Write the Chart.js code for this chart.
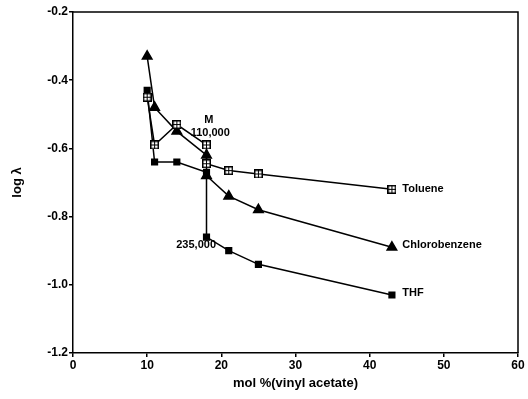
<!DOCTYPE html>
<html>
<head>
<meta charset="utf-8">
<script src="https://cdn.jsdelivr.net/npm/chart.js@4"></script>
<style>
  body { margin: 0; background: #fff; }
  #wrap { width: 528px; height: 399px; }
</style>
</head>
<body>
<div id="wrap"><canvas id="chartCanvas" width="528" height="399"></canvas></div>
<script>
// mol % vinyl acetate (x) for every series; 18 appears twice (two molecular weights)
const molVA = [10, 11, 14, 18, 18, 21, 25, 43];
const toluene = [-0.45, -0.59, -0.53, -0.59, -0.645, -0.665, -0.675, -0.72];
const chlorobenzene = [-0.33, -0.48, -0.55, -0.62, -0.68, -0.74, -0.78, -0.89];
const thf = [-0.43, -0.64, -0.64, -0.67, -0.86, -0.90, -0.94, -1.03];

const xTicks = [0, 10, 20, 30, 40, 50, 60];
const yTicks = [-0.2, -0.4, -0.6, -0.8, -1.0, -1.2];

// text labels placed at data coordinates
const labels = [
    { text: "Toluene", x: 44.4, y: -0.719, align: "left" },
    { text: "Chlorobenzene", x: 44.4, y: -0.883, align: "left" },
    { text: "THF", x: 44.4, y: -1.024, align: "left" },
    { text: "M", x: 18.3, y: -0.517, align: "center" },
    { text: "110,000", x: 18.5, y: -0.555, align: "center" },
    { text: "235,000", x: 16.6, y: -0.883, align: "center" }
];

const toXY = (ys) => ys.map((v, i) => ({ x: molVA[i], y: v }));

// open square with a cross for toluene
function crossSquare() {
    const c = document.createElement("canvas");
    c.width = 9; c.height = 9;
    const g = c.getContext("2d");
    g.fillStyle = "#fff";
    g.fillRect(0, 0, 9, 9);
    g.strokeStyle = "#000";
    g.lineWidth = 1.5;
    g.strokeRect(0.75, 0.75, 7.5, 7.5);
    g.lineWidth = 1;
    g.beginPath();
    g.moveTo(4.5, 1); g.lineTo(4.5, 8);
    g.moveTo(1, 4.5); g.lineTo(8, 4.5);
    g.stroke();
    return c;
}

const frameAndLabels = {
    id: "frameAndLabels",
    afterDraw(chart) {
        const { ctx, chartArea: a, scales } = chart;
        ctx.save();
        ctx.strokeStyle = "#000";
        ctx.lineWidth = 1.5;
        ctx.beginPath();
        ctx.moveTo(a.left, a.top);
        ctx.lineTo(a.right, a.top);
        ctx.lineTo(a.right, a.bottom);
        ctx.stroke();
        ctx.fillStyle = "#000";
        ctx.font = "bold 11px 'Liberation Sans', Arial, sans-serif";
        ctx.textBaseline = "middle";
        labels.forEach(l => {
            ctx.textAlign = l.align;
            ctx.fillText(l.text, scales.x.getPixelForValue(l.x), scales.y.getPixelForValue(l.y));
        });
        ctx.restore();
    }
};

const common = {
    borderColor: "#000",
    borderWidth: 1.5,
    pointBorderColor: "#000",
    pointBackgroundColor: "#000",
    pointRadius: 4.5,
    showLine: true,
    fill: false
};

new Chart(document.getElementById("chartCanvas"), {
    type: "scatter",
    data: {
        datasets: [
            { ...common, label: "Toluene", data: toXY(toluene), pointStyle: crossSquare() },
            { ...common, label: "Chlorobenzene", data: toXY(chlorobenzene), pointStyle: "triangle", pointRadius: 5.5 },
            { ...common, label: "THF", data: toXY(thf), pointStyle: "rect", pointRadius: 4 }
        ]
    },
    options: {
        responsive: false,
        animation: false,
        layout: { padding: { top: 12, right: 10, left: 10, bottom: 8 } },
        plugins: { legend: { display: false }, tooltip: { enabled: false } },
        scales: {
            x: {
                type: "linear",
                min: 0, max: 60,
                afterBuildTicks: (s) => { s.ticks = xTicks.map(v => ({ value: v })); },
                afterFit: (s) => { s.height = 38; },
                grid: { drawOnChartArea: false, drawTicks: true, tickLength: 4, color: "#000", lineWidth: 1.5 },
                border: { color: "#000", width: 1.5 },
                ticks: { color: "#000", padding: 1, font: { family: "'Liberation Sans', Arial", size: 12, weight: "bold" } },
                title: { display: true, text: "mol %(vinyl acetate)", color: "#000", padding: 0,
                         font: { family: "'Liberation Sans', Arial", size: 13, weight: "bold" } }
            },
            y: {
                min: -1.2, max: -0.2,
                afterBuildTicks: (s) => { s.ticks = yTicks.map(v => ({ value: v })); },
                afterFit: (s) => { s.width = 63; },
                grid: { drawOnChartArea: false, drawTicks: true, tickLength: 4, color: "#000", lineWidth: 1.5 },
                border: { color: "#000", width: 1.5 },
                ticks: { color: "#000", padding: 1, callback: (v) => v.toFixed(1),
                         font: { family: "'Liberation Sans', Arial", size: 12, weight: "bold" } },
                title: { display: true, text: "log λ", color: "#000", padding: { top: 0, bottom: 6 },
                         font: { family: "'Liberation Sans', Arial", size: 13, weight: "bold" } }
            }
        }
    },
    plugins: [frameAndLabels]
});
</script>
</body>
</html>
